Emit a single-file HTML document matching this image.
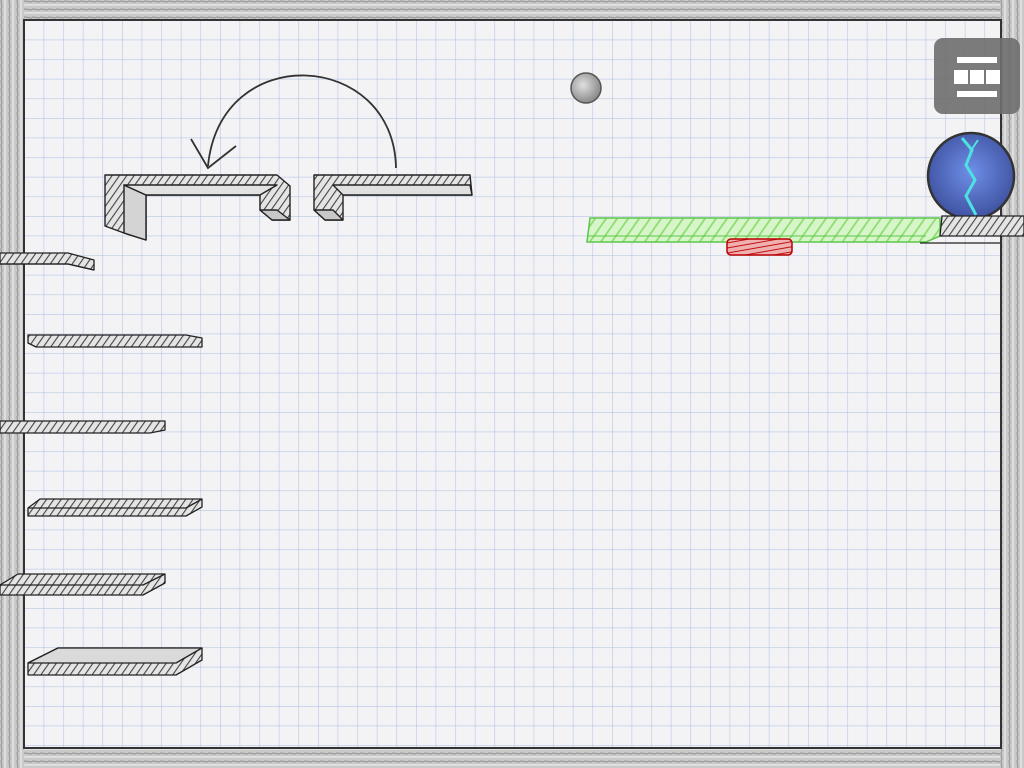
<!DOCTYPE html>
<html><head><meta charset="utf-8"><style>
html,body{margin:0;padding:0;width:1024px;height:768px;overflow:hidden;background:#d9d9d9;}
svg{display:block}
</style></head><body>
<svg width="1024" height="768" viewBox="0 0 1024 768" xmlns="http://www.w3.org/2000/svg">
<defs>
<pattern id="grid" width="19.6" height="19.6" patternUnits="userSpaceOnUse" x="24" y="20">
<rect width="19.6" height="19.6" fill="#f3f3f5"/>
<path d="M0 0H19.6M0 0V19.6" stroke="#b7c6e3" stroke-width="1.2"/>
</pattern>
<pattern id="frame" width="8" height="8" patternUnits="userSpaceOnUse">
<rect width="8" height="8" fill="#c9c9c9"/>
<path d="M0 1L8 2" stroke="#9a9a9a" stroke-width="1.2"/>
<path d="M0 5L8 5" stroke="#ececec" stroke-width="1.2"/>
</pattern>
<pattern id="framev" width="8" height="8" patternUnits="userSpaceOnUse">
<rect width="8" height="8" fill="#c9c9c9"/>
<path d="M1 0L2 8" stroke="#9a9a9a" stroke-width="1.2"/>
<path d="M5 0L5 8" stroke="#ececec" stroke-width="1.2"/>
</pattern>
<pattern id="hatch" width="6" height="6" patternUnits="userSpaceOnUse" patternTransform="rotate(35)">
<rect width="6" height="6" fill="#e4e4e4"/>
<path d="M0 0V6" stroke="#444" stroke-width="2.2"/>
</pattern>
<pattern id="ghatch" width="9" height="9" patternUnits="userSpaceOnUse" patternTransform="rotate(35)">
<rect width="9" height="9" fill="#d6f5c8"/>
<path d="M0 0V9" stroke="#8fdc72" stroke-width="3.5"/>
</pattern>
<pattern id="rhatch" width="5" height="5" patternUnits="userSpaceOnUse" patternTransform="rotate(80)">
<rect width="5" height="5" fill="#f0b0b0"/>
<path d="M0 0V5" stroke="#c01010" stroke-width="2"/>
</pattern>
<radialGradient id="blue" cx="0.5" cy="0.45" r="0.55">
<stop offset="0" stop-color="#6f8fe8"/><stop offset="1" stop-color="#3f52a0"/>
</radialGradient>
<radialGradient id="grey" cx="0.4" cy="0.4" r="0.6">
<stop offset="0" stop-color="#e0e0e0"/><stop offset="1" stop-color="#8a8a8a"/>
</radialGradient>
</defs>
<rect x="0" y="0" width="1024" height="768" fill="url(#frame)"/>
<rect x="0" y="0" width="24" height="768" fill="url(#framev)"/>
<rect x="1000" y="0" width="24" height="768" fill="url(#framev)"/>
<rect x="24" y="20" width="977" height="728" fill="url(#grid)" stroke="#333" stroke-width="2"/>

<path d="M396 168 C394 50 220 40 208 166" fill="none" stroke="#333" stroke-width="1.8"/>
<path d="M191 139 L208 168 L236 146" fill="none" stroke="#333" stroke-width="1.8"/>

<g stroke="#222" stroke-width="1.4" stroke-linejoin="round">
<path d="M105 175 H277 L290 186 V220 H272 L260 210 V195 H146 V240 L124 233 L105 226 Z" fill="url(#hatch)"/>
<path d="M124 185 L146 195 V240 L124 233 Z" fill="#d4d4d4"/>
<path d="M124 185 H277 L260 195 H146 Z" fill="#e2e2e2"/>
<path d="M260 210 L272 220 H290 L277 210 Z" fill="#c8c8c8"/>
</g>
<g stroke="#222" stroke-width="1.4" stroke-linejoin="round">
<path d="M314 175 H470 L472 195 H343 V220 H325 L314 210 Z" fill="url(#hatch)"/>
<path d="M333 185 H470 L472 195 H343 Z" fill="#e0e0e0"/>
<path d="M314 210 L325 220 H343 L333 210 Z" fill="#c8c8c8"/>
</g>

<circle cx="586" cy="88" r="15" fill="url(#grey)" stroke="#555" stroke-width="1.5"/>

<rect x="934" y="38" width="86" height="76" rx="9" fill="#6e6e6e" opacity="0.9"/>
<rect x="957" y="57" width="40" height="6" fill="#fff"/>
<rect x="954" y="70" width="14" height="14" fill="#fff"/>
<rect x="970" y="70" width="14" height="14" fill="#fff"/>
<rect x="986" y="70" width="14" height="14" fill="#fff"/>
<rect x="957" y="91" width="40" height="6" fill="#fff"/>

<circle cx="971" cy="176" r="43" fill="url(#blue)" stroke="#333" stroke-width="2.5"/>
<path d="M962 138 L972 150 L966 165 L975 180 L966 196 L976 215" fill="none" stroke="#4fe0e0" stroke-width="3"/>
<path d="M978 140 L970 152" fill="none" stroke="#4fe0e0" stroke-width="2"/>

<path d="M590 218 H940 V236 L926 242 H587 Z" fill="url(#ghatch)" stroke="#5cc64a" stroke-width="1.5"/>
<path d="M587 236 H926" stroke="#5cc64a" stroke-width="1"/>
<path d="M942 216 H1024 V236 H940 Z" fill="url(#hatch)" stroke="#222" stroke-width="1.3"/>
<path d="M920 243 H1000" stroke="#222" stroke-width="1.3"/>
<rect x="727" y="239" width="65" height="16" rx="4" fill="url(#rhatch)" stroke="#b00" stroke-width="1.5"/>

<g stroke="#222" stroke-width="1.3" stroke-linejoin="round">
<path d="M0 253 H68 L94 260 V270 L68 264 H0 Z" fill="url(#hatch)"/>
<path d="M0 264 H68 L94 270" fill="none"/>
<path d="M28 335 H186 L202 338 V347 H36 L28 343 Z" fill="url(#hatch)"/>
<path d="M0 421 H150 L165 421 V430 L150 433 H0 Z" fill="url(#hatch)"/>
<path d="M28 508 L40 499 H202 V507 L186 516 H28 Z" fill="url(#hatch)"/>
<path d="M28 508 H186 L202 499" fill="none"/>
<path d="M0 585 L18 574 H165 V583 L143 595 H0 Z" fill="url(#hatch)"/>
<path d="M0 585 H143 L165 574" fill="none"/>
<path d="M28 663 L58 648 H202 V660 L176 675 H28 Z" fill="url(#hatch)"/>
<path d="M28 663 L58 648 H202 L176 663 Z" fill="#dadada"/>
</g>
</svg>
</body></html>
